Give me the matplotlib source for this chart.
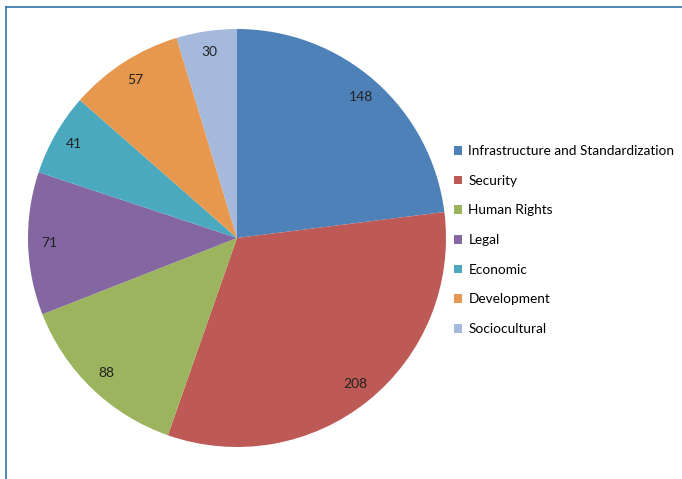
import matplotlib
matplotlib.use("Agg")
import matplotlib.pyplot as plt
from matplotlib.lines import Line2D
from matplotlib.patches import Patch

categories = ["Infrastructure and Standardization", "Security", "Human Rights",
              "Legal", "Economic", "Development", "Sociocultural"]
values = [148, 208, 88, 71, 41, 57, 30]
colors = ["#4F81B9", "#BE5A55", "#9BB45D", "#8467A1", "#4AA9BF", "#E6984E", "#A4B9DC"]

plt.rcParams['font.family'] = ['Lato', 'DejaVu Sans']

W, H = 682, 479
fig = plt.figure(figsize=(W / 100, H / 100), dpi=100)
fig.patch.set_facecolor("white")

cx, cy, r = 237, 238, 209
ax = fig.add_axes([(cx - r) / W, (H - cy - r) / H, 2 * r / W, 2 * r / H])
wedges, texts = ax.pie(values, colors=colors, startangle=90, counterclock=False,
                       labels=[str(v) for v in values], labeldistance=0.9,
                       textprops=dict(fontsize=10, color="#222222", ha="center", va="center"),
                       wedgeprops=dict(linewidth=0))
ax.set_aspect("equal")
ax.set_xlim(-1, 1)
ax.set_ylim(-1, 1)
ax.axis("off")

handles = [Patch(facecolor=c, edgecolor="none") for c in colors]
fig.legend(handles, categories, loc="upper left",
           bbox_to_anchor=(454 / W, (H - 145) / H), frameon=False,
           fontsize=9.8, handlelength=0.6, handleheight=0.6, handletextpad=0.45,
           labelspacing=1.3, borderaxespad=0, borderpad=0)

border = "#2F74A8"
fig.add_artist(Line2D([6 / W, 1], [(H - 7) / H, (H - 7) / H], color=border, lw=1.2,
                      transform=fig.transFigure))
fig.add_artist(Line2D([6 / W, 6 / W], [0, (H - 7) / H], color=border, lw=1.2,
                      transform=fig.transFigure))

fig.savefig("out.png", dpi=100, facecolor="white")
